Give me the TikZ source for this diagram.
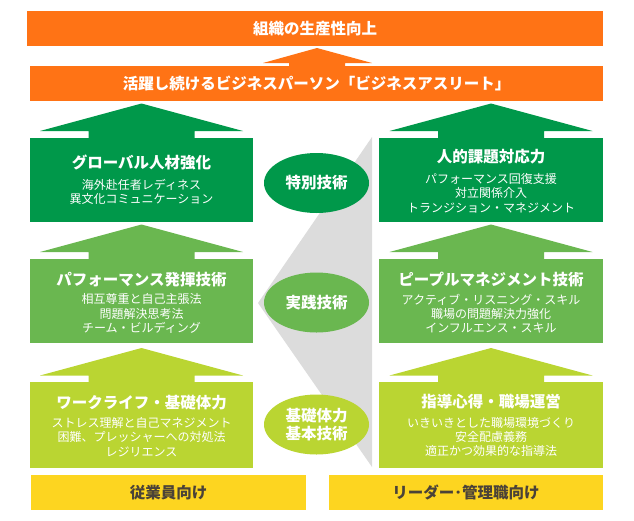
\documentclass[tikz,border=0pt]{standalone}
\usepackage{fontspec}
\setmainfont{Noto Sans CJK JP}
\usetikzlibrary{shapes.geometric}
\definecolor{bandorange}{HTML}{FF7315}
\definecolor{gdark}{HTML}{00984A}
\definecolor{gmid}{HTML}{6AB750}
\definecolor{glime}{HTML}{BAD532}
\definecolor{tagyellow}{HTML}{FDD520}
\definecolor{backgray}{HTML}{DCDCDC}
\definecolor{tagtext}{HTML}{4A4238}
\tikzset{
  band/.style={fill=bandorange, text=white, minimum height=35pt, inner sep=0pt,
    font=\fontsize{15.5}{18}\selectfont\bfseries},
  cbox/.style={minimum height=84.5pt, inner sep=0pt},
  ttl/.style={text=white, inner sep=0pt, font=\fontsize{15.5}{18}\selectfont\bfseries},
  sub/.style={text=white, inner sep=0pt, align=center, font=\fontsize{12}{14.3}\selectfont},
  oval/.style={ellipse, minimum width=105pt, minimum height=60pt, inner sep=0pt,
    text=white, align=center, font=\fontsize{15.5}{18}\selectfont\bfseries},
  tag/.style={fill=tagyellow, text=tagtext, minimum height=35pt, inner sep=0pt,
    font=\fontsize{15.5}{18}\selectfont\bfseries}
}
\begin{document}
\begin{tikzpicture}[x=1pt,y=-1pt]
\useasboundingbox (0,0) rectangle (634,520);

\node[band, minimum width=576pt] (goal) at (315,28.5) {組織の生産性向上};
\node[band, minimum width=573pt] (athlete) at (316.5,83.5) {活躍し続けるビジネスパーソン「ビジネスアスリート」};
\fill[bandorange] (317,48) -- (372,63) -- (345,63) -- (345,67) -- (289,67) -- (289,63) -- (263,63) -- cycle;

\fill[backgray] (372,137) -- (258,303) -- (372,467) -- cycle;

\foreach \cx in {141.5,491}
  \foreach \yt/\col in {137.5/gdark,258.5/gmid,382/glime}
    \fill[\col] (\cx,{\yt-34}) -- ({\cx+101.5},{\yt-6.5}) -- ({\cx+53},{\yt-6.5}) -- ({\cx+53},{\yt+1})
      -- ({\cx-53},{\yt+1}) -- ({\cx-53},{\yt-6.5}) -- ({\cx-101.5},{\yt-6.5}) -- cycle;

\node[cbox, fill=gdark, minimum width=223pt] (global) at (141.5,179.75) {};
\node[cbox, fill=gmid, minimum width=223pt] (perform) at (141.5,300.75) {};
\node[cbox, fill=glime, minimum width=223pt, minimum height=86pt] (worklife) at (141.5,425) {};
\node[cbox, fill=gdark, minimum width=224pt] (human) at (491,179.75) {};
\node[cbox, fill=gmid, minimum width=224pt] (people) at (491,300.75) {};
\node[cbox, fill=glime, minimum width=224pt, minimum height=86pt] (guide) at (491,425) {};

\node[ttl] (globalT) at (141.5,162) {グローバル人材強化};
\node[sub] (globalS) at (141.5,192) {海外赴任者レディネス\\異文化コミュニケーション};
\node[ttl] (performT) at (141.5,280) {パフォーマンス発揮技術};
\node[sub] (performS) at (141.5,313.5) {相互尊重と自己主張法\\問題解決思考法\\チーム・ビルディング};
\node[ttl] (worklifeT) at (141.5,403) {ワークライフ・基礎体力};
\node[sub] (worklifeS) at (141.5,437) {ストレス理解と自己マネジメント\\困難、プレッシャーへの対処法\\レジリエンス};

\node[ttl] (humanT) at (491,157) {人的課題対応力};
\node[sub] (humanS) at (491,193) {パフォーマンス回復支援\\対立関係介入\\トランジション・マネジメント};
\node[ttl] (peopleT) at (491,280) {ピープルマネジメント技術};
\node[sub] (peopleS) at (491,313.5) {アクティブ・リスニング・スキル\\職場の問題解決力強化\\インフルエンス・スキル};
\node[ttl] (guideT) at (491,402) {指導心得・職場運営};
\node[sub] (guideS) at (491,437) {いきいきとした職場環境づくり\\安全配慮義務\\適正かつ効果的な指導法};

\node[oval, fill=gdark] (special) at (316.5,183) {特別技術};
\node[oval, fill=gmid] (practice) at (316.5,302.5) {実践技術};
\node[oval, fill=glime] (basic) at (316.5,424.5) {基礎体力\\基本技術};

\node[tag, minimum width=275pt] (staff) at (168.5,492.5) {従業員向け};
\node[tag, minimum width=274pt] (leader) at (466,492.5) {リーダー･管理職向け};
\end{tikzpicture}
\end{document}
